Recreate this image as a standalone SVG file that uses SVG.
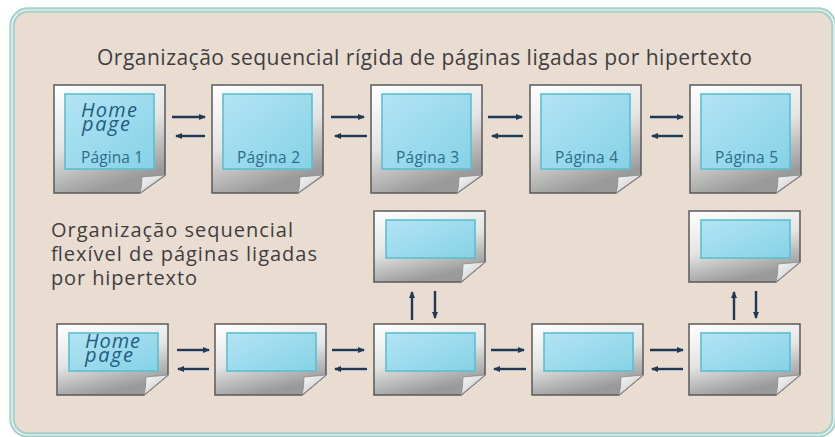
<svg xmlns="http://www.w3.org/2000/svg" width="835" height="437" viewBox="0 0 835 437">
<defs>
<linearGradient id="gPage" x1="0" y1="0" x2="0.35" y2="1">
<stop offset="0" stop-color="#ffffff"/><stop offset="0.55" stop-color="#e4e4e4"/><stop offset="1" stop-color="#9a9a9a"/>
</linearGradient>
<linearGradient id="gCurl" x1="0" y1="0" x2="1" y2="1">
<stop offset="0" stop-color="#f7f7f7"/><stop offset="1" stop-color="#c4c4c4"/>
</linearGradient>
<linearGradient id="gScr" x1="0" y1="0" x2="1" y2="1">
<stop offset="0" stop-color="#b3e4f4"/><stop offset="1" stop-color="#86d2e6"/>
</linearGradient>
<marker id="ah" markerWidth="8" markerHeight="8" refX="6" refY="4" orient="auto" markerUnits="userSpaceOnUse">
<path d="M0,1 L7,4 L0,7 Z" fill="#1e3a56"/>
</marker>
<style>
.page{fill:url(#gPage);stroke:#5a5a5a;stroke-width:1.5}
.curl{fill:url(#gCurl);stroke:#8a8a8a;stroke-width:0.8}
.scr{fill:url(#gScr);stroke:#5cbfcf;stroke-width:1.6}
.txt{font-family:"Open Sans","Liberation Sans",sans-serif;fill:#3f3f3f;font-size:21px}
.txt2{font-family:"Open Sans","Liberation Sans",sans-serif;fill:#3f3f3f;font-size:20px}
.lbl{font-family:"Open Sans","Liberation Sans",sans-serif;fill:#2f6d88;font-size:15.5px}
.home{font-family:"Open Sans","Liberation Sans",sans-serif;font-style:italic;fill:#1f5d7e;font-size:20px}
.arr{stroke:#1e3a56;stroke-width:2.4;fill:none;marker-end:url(#ah)}
</style>
</defs>
<rect x="0" y="0" width="835" height="437" fill="#ffffff"/>
<rect x="12" y="10" width="822" height="425" rx="16" fill="#e9dcd1" stroke="#a9d1cc" stroke-width="5.5"/>
<rect x="12" y="10" width="822" height="425" rx="16" fill="none" stroke="#f4fbfa" stroke-width="1.2"/>

<text class="txt" x="97" y="65" textLength="655">Organização sequencial rígida de páginas ligadas por hipertexto</text>
<text class="txt2"><tspan x="51" y="237" textLength="242">Organização sequencial</tspan><tspan x="51" y="261" textLength="266">flexível de páginas ligadas</tspan><tspan x="51" y="285" textLength="146">por hipertexto</tspan></text>

<g id="t1" transform="translate(54,85)">
<path class="page" d="M0,0 H111 V90 L86,108 H0 Z"/>
<path class="curl" d="M111,90 L88,92 Q88,101 86,108 Z"/>
<rect class="scr" x="11" y="9" width="89" height="75"/>
<text class="home"><tspan x="27" y="32" textLength="56">Home</tspan><tspan x="28" y="46" textLength="48">page</tspan></text>
<text class="lbl" x="27" y="78" textLength="62">Página 1</text>
</g>
<g id="t2" transform="translate(212,85)">
<path class="page" d="M0,0 H111 V90 L86,108 H0 Z"/>
<path class="curl" d="M111,90 L88,92 Q88,101 86,108 Z"/>
<rect class="scr" x="11" y="9" width="89" height="75"/>
<text class="lbl" x="25" y="78" textLength="63">Página 2</text>
</g>
<g id="t3" transform="translate(371,85)">
<path class="page" d="M0,0 H111 V90 L86,108 H0 Z"/>
<path class="curl" d="M111,90 L88,92 Q88,101 86,108 Z"/>
<rect class="scr" x="11" y="9" width="89" height="75"/>
<text class="lbl" x="25" y="78" textLength="63">Página 3</text>
</g>
<g id="t4" transform="translate(530,85)">
<path class="page" d="M0,0 H111 V90 L86,108 H0 Z"/>
<path class="curl" d="M111,90 L88,92 Q88,101 86,108 Z"/>
<rect class="scr" x="11" y="9" width="89" height="75"/>
<text class="lbl" x="25" y="78" textLength="63">Página 4</text>
</g>
<g id="t5" transform="translate(690,85)">
<path class="page" d="M0,0 H111 V90 L86,108 H0 Z"/>
<path class="curl" d="M111,90 L88,92 Q88,101 86,108 Z"/>
<rect class="scr" x="11" y="9" width="89" height="75"/>
<text class="lbl" x="25" y="78" textLength="63">Página 5</text>
</g>

<g id="b1" transform="translate(57,324)">
<path class="page" d="M0,0 H111 V51 L87,71 H0 Z"/>
<path class="curl" d="M111,51 L89,53 Q89,63 87,71 Z"/>
<rect class="scr" x="12" y="9" width="89" height="38"/>
<text class="home"><tspan x="28" y="24" textLength="55">Home</tspan><tspan x="28" y="38" textLength="48">page</tspan></text>
</g>
<g id="b2" transform="translate(215,324)">
<path class="page" d="M0,0 H111 V51 L87,71 H0 Z"/>
<path class="curl" d="M111,51 L89,53 Q89,63 87,71 Z"/>
<rect class="scr" x="12" y="9" width="89" height="38"/>
</g>
<g id="b3" transform="translate(374,324)">
<path class="page" d="M0,0 H111 V51 L87,71 H0 Z"/>
<path class="curl" d="M111,51 L89,53 Q89,63 87,71 Z"/>
<rect class="scr" x="12" y="9" width="89" height="38"/>
</g>
<g id="b4" transform="translate(532,324)">
<path class="page" d="M0,0 H111 V51 L87,71 H0 Z"/>
<path class="curl" d="M111,51 L89,53 Q89,63 87,71 Z"/>
<rect class="scr" x="12" y="9" width="89" height="38"/>
</g>
<g id="b5" transform="translate(689,324)">
<path class="page" d="M0,0 H111 V51 L87,71 H0 Z"/>
<path class="curl" d="M111,51 L89,53 Q89,63 87,71 Z"/>
<rect class="scr" x="12" y="9" width="89" height="38"/>
</g>
<g id="u3" transform="translate(374,211)">
<path class="page" d="M0,0 H111 V51 L87,71 H0 Z"/>
<path class="curl" d="M111,51 L89,53 Q89,63 87,71 Z"/>
<rect class="scr" x="12" y="9" width="89" height="38"/>
</g>
<g id="u5" transform="translate(689,211)">
<path class="page" d="M0,0 H111 V51 L87,71 H0 Z"/>
<path class="curl" d="M111,51 L89,53 Q89,63 87,71 Z"/>
<rect class="scr" x="12" y="9" width="89" height="38"/>
</g>

<g id="connectors">
<line class="arr" x1="172" y1="117" x2="205" y2="117"/>
<line class="arr" x1="205" y1="136" x2="176" y2="136"/>
<line class="arr" x1="331" y1="117" x2="364" y2="117"/>
<line class="arr" x1="367" y1="136" x2="335" y2="136"/>
<line class="arr" x1="488" y1="117" x2="522" y2="117"/>
<line class="arr" x1="523" y1="136" x2="492" y2="136"/>
<line class="arr" x1="650" y1="117" x2="683" y2="117"/>
<line class="arr" x1="683" y1="136" x2="652" y2="136"/>

<line class="arr" x1="177" y1="350" x2="209" y2="350"/>
<line class="arr" x1="209" y1="369" x2="178" y2="369"/>
<line class="arr" x1="332" y1="350" x2="364" y2="350"/>
<line class="arr" x1="367" y1="369" x2="335" y2="369"/>
<line class="arr" x1="491" y1="350" x2="524" y2="350"/>
<line class="arr" x1="526" y1="369" x2="494" y2="369"/>
<line class="arr" x1="650" y1="350" x2="683" y2="350"/>
<line class="arr" x1="683" y1="369" x2="652" y2="369"/>

<line class="arr" x1="412" y1="320" x2="412" y2="292"/>
<line class="arr" x1="435" y1="291" x2="435" y2="318"/>
<line class="arr" x1="734" y1="320" x2="734" y2="292"/>
<line class="arr" x1="756" y1="291" x2="756" y2="318"/>
</g>
</svg>
